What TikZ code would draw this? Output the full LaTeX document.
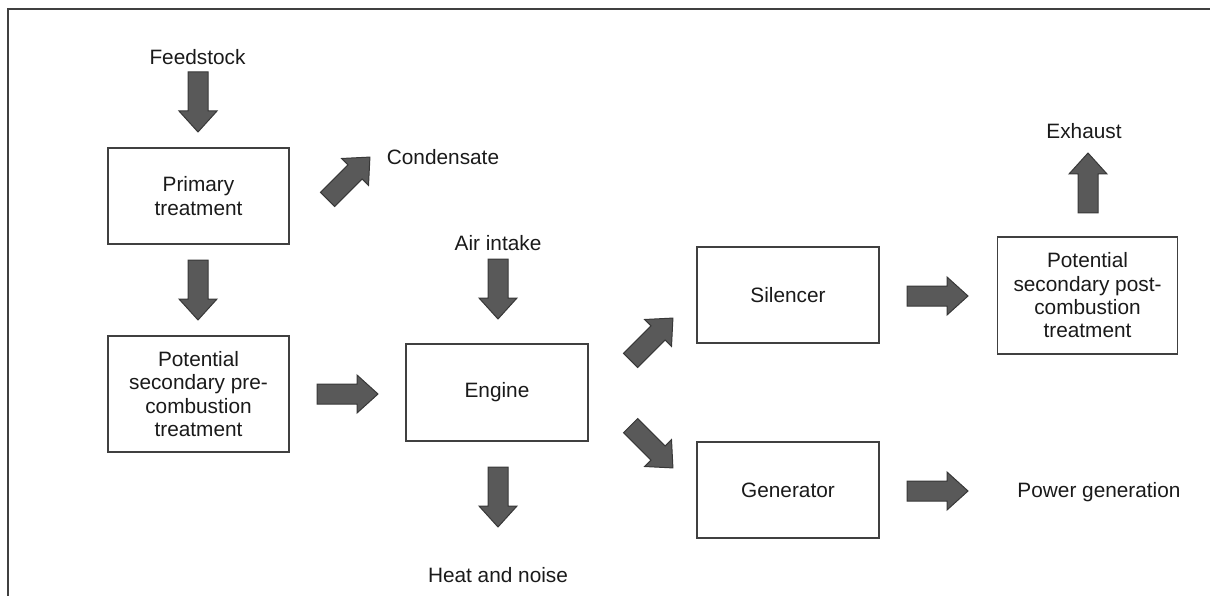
\documentclass[tikz,border=0pt]{standalone}
\usepackage{fontspec}
\setmainfont{Liberation Sans}
\usetikzlibrary{calc}

\definecolor{arrfill}{HTML}{595959}
\definecolor{arrline}{HTML}{383838}
\definecolor{boxline}{HTML}{404040}
\definecolor{txt}{HTML}{1A1A1A}

\tikzset{
  box/.style={draw=boxline, line width=1.1pt, fill=white, align=center,
    minimum width=181pt, minimum height=96pt, inner sep=2pt,
    text=txt, font=\fontsize{20.8}{23.3}\selectfont},
  lbl/.style={text=txt, inner sep=1pt, font=\fontsize{20.8}{23.3}\selectfont},
  blockarr/.style={draw=arrline, fill=arrfill, line width=1pt, line join=miter},
  frame/.style={draw=boxline, line width=1.3pt}
}

% block arrow from tail #1 to tip #2
\newcommand\blockarrow[2]{%
  \draw[blockarr] let \p1=($(#2)-(#1)$), \n1={atan2(\y1,\x1)}, \n2={veclen(\x1,\y1)} in
    [shift={(#1)}, rotate=\n1]
    (0,-10) -- (\n2-21,-10) -- (\n2-21,-19) -- (\n2,0) -- (\n2-21,19) -- (\n2-21,10) -- (0,10) -- cycle;}

\begin{document}
\begin{tikzpicture}[x=1pt, y=-1pt]
  \useasboundingbox (0,0) rectangle (1210,596);
  \draw[frame] (1210,9) -- (8,9) -- (8,596);

  % blocks
  \node[box] (prim) at (198.5,196) {Primary\\treatment};
  \node[box, minimum height=116pt] (pre) at (198.5,394) {Potential\\secondary pre-\\combustion\\treatment};
  \node[box, minimum width=182pt, minimum height=97pt] (eng) at (497,392.5) {Engine};
  \node[box, minimum width=182pt] (sil) at (788,295) {Silencer};
  \node[box, minimum width=182pt] (gen) at (788,490) {Generator};
  \node[box, minimum width=180pt, minimum height=117pt] (post) at (1087.5,295.5) {Potential\\secondary post-\\combustion\\treatment};

  % labels
  \node[lbl] (feed) at (197.5,57) {Feedstock};
  \node[lbl] (cond) at (443,157) {Condensate};
  \node[lbl] (air) at (498,243) {Air intake};
  \node[lbl] (heat) at (498,575) {Heat and noise};
  \node[lbl] (exh) at (1084,131) {Exhaust};
  \node[lbl] (power) at (1099,492) {Power generation};

  % arrow ends
  \coordinate (feed-t) at (198,72);      \coordinate (feed-h) at (198,132);
  \coordinate (prim-t) at (198,260);     \coordinate (prim-h) at (198,320);
  \coordinate (cond-t) at (327.6,199.4); \coordinate (cond-h) at (370,157);
  \coordinate (pre-t) at (317,394);      \coordinate (pre-h) at (378,394);
  \coordinate (air-t) at (498,259);      \coordinate (air-h) at (498,319);
  \coordinate (heat-t) at (498,467);     \coordinate (heat-h) at (498,527);
  \coordinate (sil-t) at (630.6,360.4);  \coordinate (sil-h) at (673,318);
  \coordinate (gen-t) at (630.6,425.6);  \coordinate (gen-h) at (673,468);
  \coordinate (post-t) at (907,296);     \coordinate (post-h) at (968,296);
  \coordinate (pow-t) at (907,491);      \coordinate (pow-h) at (968,491);
  \coordinate (exh-t) at (1088,213);     \coordinate (exh-h) at (1088,153);

  \foreach \a in {feed,prim,cond,pre,air,heat,sil,gen,post,pow,exh}
    \blockarrow{\a-t}{\a-h};
\end{tikzpicture}
\end{document}
